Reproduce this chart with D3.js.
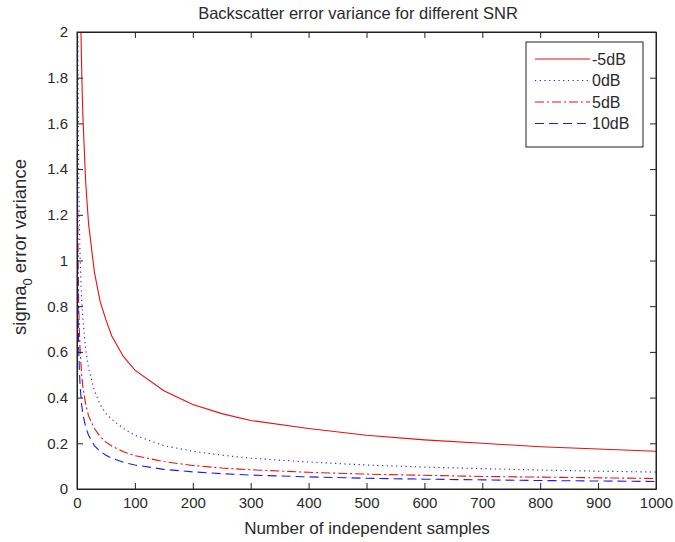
<!DOCTYPE html>
<html>
<head>
<meta charset="utf-8">
<script src="https://cdn.jsdelivr.net/npm/d3@7"></script>
<style>
  html, body { margin: 0; padding: 0; background: #fff; }
  svg { display: block; }
  text { font-family: "Liberation Sans", Arial, sans-serif; fill: #2a2a2a; }
</style>
</head>
<body>
<svg id="chart" width="675" height="542"></svg>
<script>
// ---- data ----
const samples = [1, 2, 3, 4, 5, 6, 8, 10, 15, 20, 30, 40, 50, 60, 80, 100, 150, 200, 250, 300, 400, 500, 600, 700, 800, 900, 1000];
const snrMinus5 = [5.2, 3.7, 3.0, 2.6, 2.33, 2.12, 1.84, 1.64, 1.34, 1.16, 0.95, 0.82, 0.74, 0.67, 0.58, 0.52, 0.43, 0.37, 0.33, 0.30, 0.265, 0.235, 0.215, 0.20, 0.185, 0.175, 0.165];
const snr0 = [2.35, 1.67, 1.36, 1.18, 1.05, 0.96, 0.83, 0.75, 0.61, 0.53, 0.43, 0.37, 0.33, 0.305, 0.265, 0.235, 0.19, 0.165, 0.148, 0.135, 0.118, 0.105, 0.096, 0.089, 0.083, 0.078, 0.074];
const snr5 = [1.3, 0.97, 0.80, 0.70, 0.63, 0.58, 0.50, 0.45, 0.37, 0.32, 0.265, 0.23, 0.205, 0.188, 0.163, 0.146, 0.12, 0.103, 0.092, 0.084, 0.073, 0.065, 0.06, 0.055, 0.052, 0.049, 0.046];
const snr10 = [1.05, 0.75, 0.61, 0.53, 0.47, 0.43, 0.37, 0.33, 0.27, 0.235, 0.19, 0.165, 0.148, 0.135, 0.117, 0.105, 0.086, 0.075, 0.067, 0.061, 0.053, 0.047, 0.043, 0.040, 0.037, 0.035, 0.033];
const seriesNames = ["-5dB", "0dB", "5dB", "10dB"];
const xTicks = [0, 100, 200, 300, 400, 500, 600, 700, 800, 900, 1000];
const yTicks = [0, 0.2, 0.4, 0.6, 0.8, 1, 1.2, 1.4, 1.6, 1.8, 2];

const titleText = "Backscatter error variance for different SNR";
const xLabelText = "Number of independent samples";

// ---- layout ----
const L = 77, R = 656, T = 32, B = 489;
const svg = d3.select("#chart");
const x = d3.scaleLinear().domain([0, 1000]).range([L, R]);
const y = d3.scaleLinear().domain([0, 2]).range([B, T]);

const styles = [
  { color: "#e81010", dash: null },
  { color: "#1a1aff", dash: "1.2,3.5" },
  { color: "#e81010", dash: "9,3,2,3" },
  { color: "#1a1aff", dash: "9,5" }
];
const allSeries = [snrMinus5, snr0, snr5, snr10];

svg.append("rect").attr("x", 0).attr("y", 0).attr("width", 675).attr("height", 542).attr("fill", "#fff");

svg.append("defs").append("clipPath").attr("id", "plotclip")
  .append("rect").attr("x", L).attr("y", T).attr("width", R - L).attr("height", B - T);

// lines
const line = d3.line().x((d, i) => x(samples[i])).y(d => y(d));
const gLines = svg.append("g").attr("clip-path", "url(#plotclip)");
allSeries.forEach((s, k) => {
  gLines.append("path")
    .datum(s)
    .attr("d", line)
    .attr("fill", "none")
    .attr("stroke", styles[k].color)
    .attr("stroke-width", 1.1)
    .attr("stroke-dasharray", styles[k].dash);
});

// axes
const fmt = d => String(+(+d).toFixed(1));
const tickLen = 6;
const axB = svg.append("g").attr("transform", `translate(0,${B})`)
  .call(d3.axisBottom(x).tickValues(xTicks).tickFormat(fmt).tickSizeInner(-tickLen).tickSizeOuter(0).tickPadding(8));
const axT = svg.append("g").attr("transform", `translate(0,${T})`)
  .call(d3.axisTop(x).tickValues(xTicks).tickFormat("").tickSizeInner(-tickLen).tickSizeOuter(0));
const axL = svg.append("g").attr("transform", `translate(${L},0)`)
  .call(d3.axisLeft(y).tickValues(yTicks).tickFormat(fmt).tickSizeInner(-tickLen).tickSizeOuter(0).tickPadding(9));
const axR = svg.append("g").attr("transform", `translate(${R},0)`)
  .call(d3.axisRight(y).tickValues(yTicks).tickFormat("").tickSizeInner(-tickLen).tickSizeOuter(0));
[axB, axT, axL, axR].forEach(g => {
  g.selectAll("path.domain").attr("stroke", "#222");
  g.selectAll(".tick line").attr("stroke", "#222");
  g.selectAll(".tick text").attr("font-size", 15).attr("fill", "#2a2a2a")
    .attr("font-family", "\"Liberation Sans\", Arial, sans-serif");
});

svg.append("rect").attr("x", L).attr("y", T).attr("width", R - L).attr("height", B - T)
  .attr("fill", "none").attr("stroke", "#222").attr("stroke-width", 1);

// title & labels
svg.append("text").attr("x", 358).attr("y", 19).attr("text-anchor", "middle")
  .attr("font-size", 16.5).text(titleText);
svg.append("text").attr("x", 367).attr("y", 534).attr("text-anchor", "middle")
  .attr("font-size", 17).text(xLabelText);

const yl = svg.append("text").attr("transform", "translate(26,247) rotate(-90)")
  .attr("text-anchor", "middle").attr("font-size", 18.5);
yl.append("tspan").text("sigma");
yl.append("tspan").attr("font-size", 13).attr("dy", 6).text("0");
yl.append("tspan").attr("dy", -6).text(" error variance");

// legend
const lg = svg.append("g");
lg.append("rect").attr("x", 526).attr("y", 42).attr("width", 117).attr("height", 105)
  .attr("fill", "#fff").attr("stroke", "#222").attr("stroke-width", 1);
seriesNames.forEach((name, k) => {
  const yy = 59 + k * 21.5;
  lg.append("line").attr("x1", 535).attr("x2", 590).attr("y1", yy).attr("y2", yy)
    .attr("stroke", styles[k].color).attr("stroke-width", 1.1)
    .attr("stroke-dasharray", styles[k].dash);
  lg.append("text").attr("x", 592).attr("y", yy + 5.5).attr("font-size", 16).text(name);
});
</script>
</body>
</html>
